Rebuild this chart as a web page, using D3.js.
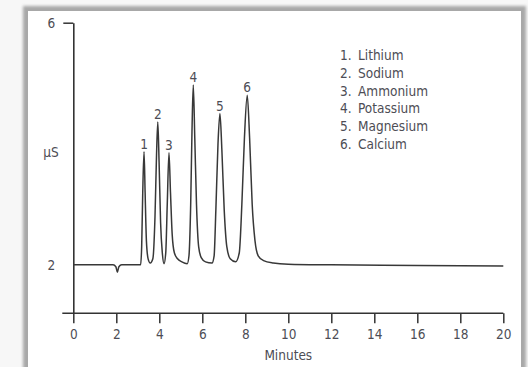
<!DOCTYPE html>
<html>
<head>
<meta charset="utf-8">
<script src="https://cdn.jsdelivr.net/npm/d3@7"></script>
<style>
  html, body { margin: 0; padding: 0; background: #f7f7f7; }
  svg { display: block; }
  text { font-family: "Liberation Sans Narrow", "DejaVu Sans Condensed", "Liberation Sans", sans-serif; font-stretch: condensed; }
</style>
</head>
<body>
<div id="chart"></div>
<script>
// chromatogram trace (minutes, µS)
const traceMinutes = [0, 1.85, 1.98, 2.05, 2.12, 2.25, 3.1,
  3.13, 3.18, 3.23, 3.29, 3.34, 3.40, 3.48, 3.58,
  3.70, 3.80, 3.87, 3.93, 3.99, 4.06, 4.14, 4.22,
  4.30, 4.37, 4.45, 4.52, 4.60, 4.70, 4.85, 5.05, 5.30,
  5.38, 5.46, 5.52, 5.58, 5.65, 5.73, 5.83, 5.95, 6.15, 6.45,
  6.55, 6.63, 6.73, 6.82, 6.91, 7.02, 7.14, 7.30, 7.55,
  7.72, 7.84, 7.96, 8.09, 8.20, 8.32, 8.45, 8.60, 8.85, 9.3, 10, 12, 16, 20];
const traceMicroS = [2.0, 2.0, 1.97, 1.88, 1.97, 2.0, 2.0,
  2.0, 2.3, 3.2, 3.87, 3.2, 2.4, 2.1, 2.03,
  2.1, 2.8, 3.8, 4.36, 3.7, 2.7, 2.2, 2.02,
  2.2, 3.0, 3.85, 3.2, 2.5, 2.2, 2.1, 2.05, 2.02,
  2.15, 3.0, 4.2, 4.97, 4.1, 3.0, 2.3, 2.12, 2.05, 2.03,
  2.15, 2.9, 4.0, 4.50, 3.9, 2.9, 2.3, 2.1, 2.05,
  2.2, 3.0, 4.1, 4.80, 4.1, 3.0, 2.4, 2.15, 2.07, 2.03, 2.01, 2.0, 1.99, 1.98];

// peak apexes and their numbers
const peakNumbers = ["1", "2", "3", "4", "5", "6"];
const peakMinutes = [3.29, 3.93, 4.45, 5.58, 6.82, 8.09];
const peakHeights = [3.87, 4.36, 3.85, 4.97, 4.50, 4.80];
const ionNames = ["Lithium", "Sodium", "Ammonium", "Potassium", "Magnesium", "Calcium"];

const xTicks = [0, 2, 4, 6, 8, 10, 12, 14, 16, 18, 20];
const yTicks = [2, 6];

const width = 528, height = 367;
const textColor = "#4d4d55";
const fontSize = "13.5px";

const svg = d3.select("#chart").append("svg")
  .attr("width", width)
  .attr("height", height);

// panel with soft grey edge
const defs = svg.append("defs");
defs.append("filter").attr("id", "blur")
  .attr("x", "-10%").attr("y", "-10%").attr("width", "120%").attr("height", "120%")
  .append("feGaussianBlur").attr("stdDeviation", 1.8);

svg.append("rect")
  .attr("x", 23).attr("y", 6).attr("width", 503).attr("height", 400)
  .attr("fill", "#a8a8a8")
  .attr("filter", "url(#blur)");
svg.append("rect")
  .attr("x", 28).attr("y", 11).attr("width", 493).attr("height", 400)
  .attr("fill", "#ffffff");

const x = d3.scaleLinear().domain([0, 20]).range([73.3, 503.3]);
const y = d3.scaleLinear().domain([1.2, 6]).range([313.3, 22.7]);

// x axis
const xAxis = svg.append("g")
  .attr("transform", `translate(0,${y(1.2)})`)
  .call(d3.axisBottom(x).tickValues(xTicks).tickSize(10).tickSizeOuter(0).tickPadding(6));
xAxis.select(".domain").remove();
xAxis.append("line")
  .attr("x1", x(0) - 11).attr("x2", x(20))
  .attr("stroke", "#333").attr("stroke-width", 1.6);
xAxis.selectAll(".tick line").attr("stroke", "#333").attr("stroke-width", 1.5);
xAxis.selectAll(".tick text")
  .attr("fill", textColor)
  .style("font-size", fontSize);

// y axis
const yAxis = svg.append("g")
  .attr("transform", `translate(${x(0)},0)`)
  .call(d3.axisLeft(y).tickValues(yTicks).tickFormat(d3.format("d"))
    .tickSize(10).tickSizeOuter(0).tickPadding(8));
yAxis.select(".domain").attr("stroke", "#333").attr("stroke-width", 1.6);
yAxis.selectAll(".tick line")
  .attr("stroke", "#333").attr("stroke-width", 1.5)
  .attr("opacity", d => d == 6 ? 1 : 0);
yAxis.selectAll(".tick text")
  .attr("fill", textColor)
  .style("font-size", fontSize);

// axis titles
svg.append("text")
  .attr("x", (x(0) + x(20)) / 2).attr("y", 360)
  .attr("text-anchor", "middle")
  .attr("fill", textColor)
  .style("font-size", fontSize)
  .text("Minutes");

svg.append("text")
  .attr("x", 51).attr("y", 157)
  .attr("text-anchor", "middle")
  .attr("fill", textColor)
  .style("font-size", fontSize)
  .text("µS");

// trace
const trace = traceMinutes.map((t, i) => [t, traceMicroS[i]]);
const line = d3.line()
  .x(d => x(d[0]))
  .y(d => y(d[1]))
  .curve(d3.curveMonotoneX);

svg.append("path")
  .datum(trace)
  .attr("d", line)
  .attr("fill", "none")
  .attr("stroke", "#383838")
  .attr("stroke-width", 1.5)
  .attr("stroke-linejoin", "round");

// peak numbers
svg.selectAll(".peak-label")
  .data(peakNumbers)
  .join("text")
  .attr("class", "peak-label")
  .attr("x", (d, i) => x(peakMinutes[i]))
  .attr("y", (d, i) => y(peakHeights[i]) - 3)
  .attr("text-anchor", "middle")
  .attr("fill", textColor)
  .style("font-size", fontSize)
  .text(d => d);

// legend
const legend = svg.append("g").attr("transform", "translate(340,60)");
const rows = legend.selectAll("g")
  .data(ionNames)
  .join("g")
  .attr("transform", (d, i) => `translate(0,${i * 17.8})`);
rows.append("text")
  .attr("fill", textColor)
  .style("font-size", fontSize)
  .text((d, i) => peakNumbers[i] + ".");
rows.append("text")
  .attr("x", 18)
  .attr("fill", textColor)
  .style("font-size", fontSize)
  .text(d => d);
</script>
</body>
</html>
